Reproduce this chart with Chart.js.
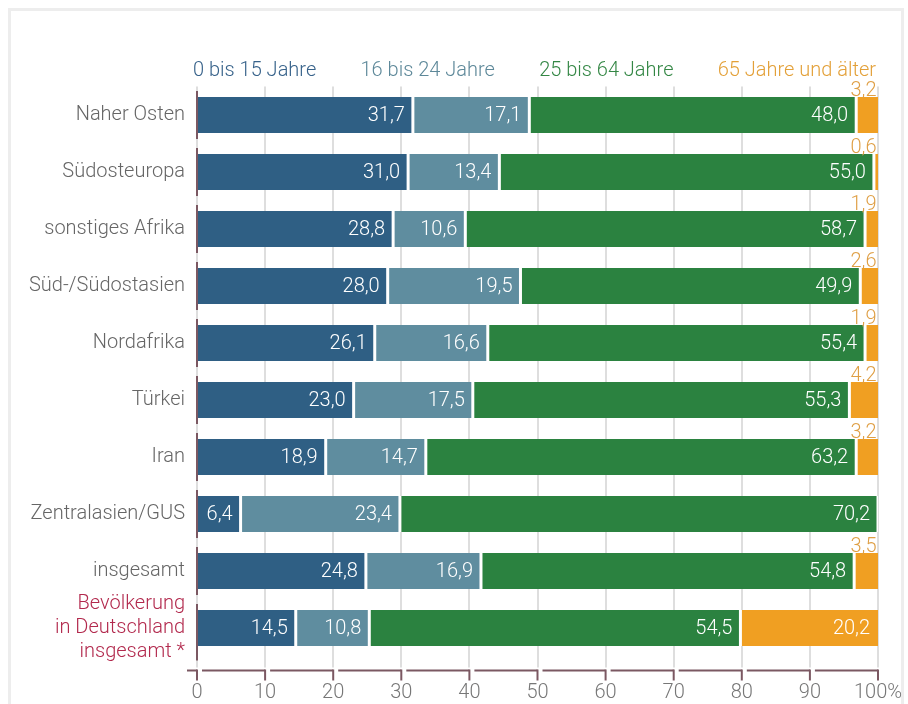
<!DOCTYPE html>
<html>
<head>
<meta charset="utf-8">
<script src="https://cdn.jsdelivr.net/npm/chart.js@4.4.1/dist/chart.umd.min.js"></script>
<style>
  html, body { margin: 0; padding: 0; background: #fff; }
  #wrap { position: relative; width: 908px; height: 704px; overflow: hidden; }
  #frame { position: absolute; left: 8px; top: 8px; width: 896px; height: 760px; box-sizing: border-box; border: 3px solid #ededed; }
  #c { position: absolute; left: 0; top: 0; }
</style>
</head>
<body>
<div id="wrap">
  <div id="frame"></div>
  <canvas id="c" width="908" height="704"></canvas>
</div>
<script>
const categories = [
  'Naher Osten', 'Südosteuropa', 'sonstiges Afrika', 'Süd-/Südostasien', 'Nordafrika',
  'Türkei', 'Iran', 'Zentralasien/GUS', 'insgesamt',
  ['Bevölkerung', 'in Deutschland', 'insgesamt *']
];
const seriesNames = ['0 bis 15 Jahre', '16 bis 24 Jahre', '25 bis 64 Jahre', '65 Jahre und älter'];
const age0to15  = [31.7, 31.0, 28.8, 28.0, 26.1, 23.0, 18.9, 6.4, 24.8, 14.5];
const age16to24 = [17.1, 13.4, 10.6, 19.5, 16.6, 17.5, 14.7, 23.4, 16.9, 10.8];
const age25to64 = [48.0, 55.0, 58.7, 49.9, 55.4, 55.3, 63.2, 70.2, 54.8, 54.5];
const age65plus = [3.2, 0.6, 1.9, 2.6, 1.9, 4.2, 3.2, 0.0, 3.5, 20.2];
const xTicks = [0, 10, 20, 30, 40, 50, 60, 70, 80, 90, 100];

const barColors = ['#2f5f84', '#5f8d9f', '#2b8240', '#f09f22'];
const legendColors = ['#37628a', '#5d8899', '#348745', '#e3a038'];
const FONT = 'Roboto, "Noto Sans", sans-serif';
const FS = 20;
const AXIS_COL = '#7b5862';

const seriesValues = [age0to15, age16to24, age25to64, age65plus];

const datasets = seriesValues.map((vals, i) => ({
  label: seriesNames[i],
  data: vals,
  backgroundColor: barColors[i],
  borderColor: '#ffffff',
  borderWidth: { left: i === 0 ? 0 : 1.5, right: i === 3 ? 0 : 1.5, top: 0, bottom: 0 },
  borderSkipped: false,
  barPercentage: 0.632,
  categoryPercentage: 1.0
}));

const fmt = v => v.toFixed(1).replace('.', ',');

const valueLabels = {
  id: 'valueLabels',
  afterDatasetsDraw(chart) {
    const ctx = chart.ctx;
    ctx.save();
    ctx.font = '300 ' + FS + 'px ' + FONT;
    ctx.textAlign = 'right';
    chart.data.datasets.forEach((ds, di) => {
      const meta = chart.getDatasetMeta(di);
      meta.data.forEach((bar, j) => {
        const v = ds.data[j];
        if (!v) return;
        const end = Math.max(bar.x, bar.base);
        if (di === 3 && v < 10) {
          ctx.fillStyle = '#df9f45';
          ctx.textBaseline = 'alphabetic';
          ctx.fillText(fmt(v), end - 1.5, bar.y - bar.height / 2 - 0.5);
        } else {
          ctx.fillStyle = '#ffffff';
          ctx.textBaseline = 'middle';
          ctx.fillText(fmt(v), end - 8, bar.y + 1);
        }
      });
    });
    ctx.restore();
  }
};

const customLegend = {
  id: 'customLegend',
  afterDraw(chart) {
    const ctx = chart.ctx;
    const a = chart.chartArea;
    ctx.save();
    ctx.font = '300 ' + FS + 'px ' + FONT;
    ctx.textBaseline = 'middle';
    ctx.textAlign = 'left';
    const names = chart.data.datasets.map(d => d.label);
    const widths = names.map(n => ctx.measureText(n).width);
    const startX = a.left - 4;
    const endX = a.right - 2;
    const total = widths.reduce((s, w) => s + w, 0);
    const gap = (endX - startX - total) / (names.length - 1);
    let x = startX;
    names.forEach((n, i) => {
      ctx.fillStyle = legendColors[i];
      ctx.fillText(n, x, a.top - 16);
      x += widths[i] + gap;
    });
    ctx.restore();
  }
};

const customAxes = {
  id: 'customAxes',
  afterDraw(chart) {
    const ctx = chart.ctx;
    const a = chart.chartArea;
    const xs = chart.scales.x;
    const ys = chart.scales.y;
    ctx.save();
    ctx.strokeStyle = AXIS_COL;
    ctx.lineWidth = 2;
    ctx.lineCap = 'butt';
    const n = chart.data.labels.length;
    for (let i = 0; i < n; i++) {
      const cy = ys.getPixelForValue(i);
      const top = cy - 24;
      const bot = (i === n - 1) ? a.bottom + 4 : cy + 24;
      ctx.beginPath();
      ctx.moveTo(a.left, top);
      ctx.lineTo(a.left, bot);
      ctx.stroke();
    }
    const y0 = a.bottom + 14;
    const px = xTicks.map(v => xs.getPixelForValue(v));
    px.forEach((p, i) => {
      const from = i === 0 ? p - 10 : px[i - 1] + 5;
      ctx.beginPath();
      ctx.moveTo(from, y0);
      ctx.lineTo(p, y0);
      ctx.stroke();
      ctx.beginPath();
      ctx.moveTo(p, y0 - 1);
      ctx.lineTo(p, y0 + 10);
      ctx.stroke();
    });
    ctx.restore();
  }
};

new Chart(document.getElementById('c'), {
  type: 'bar',
  data: { labels: categories, datasets },
  options: {
    indexAxis: 'y',
    responsive: false,
    animation: false,
    events: [],
    layout: { padding: { top: 86.5, right: 30, bottom: 0, left: 0 } },
    plugins: { legend: { display: false }, tooltip: { enabled: false } },
    scales: {
      x: {
        stacked: true,
        min: 0, max: 100,
        afterBuildTicks: s => { s.ticks = xTicks.map(v => ({ value: v })); },
        afterFit: s => { s.height = 47.5; s.paddingRight = 0; s.paddingLeft = 0; },
        border: { display: false },
        grid: { color: '#dedede', lineWidth: 2, drawTicks: true, tickLength: 11, tickColor: '#dedede' },
        ticks: {
          padding: 13,
          maxRotation: 0,
          autoSkip: false,
          color: '#777777',
          font: { family: FONT, size: FS, weight: '300' },
          callback: v => v === 100 ? '100%' : String(v)
        }
      },
      y: {
        stacked: true,
        afterFit: s => { s.width = 197; s.paddingTop = 0; s.paddingBottom = 0; },
        border: { display: false },
        grid: { display: false, drawTicks: false },
        ticks: {
          padding: 12,
          autoSkip: false,
          color: c => c.index === categories.length - 1 ? '#b2294d' : '#666666',
          font: { family: FONT, size: FS, weight: '300', lineHeight: 1.18 }
        }
      }
    }
  },
  plugins: [valueLabels, customLegend, customAxes]
});
</script>
</body>
</html>
